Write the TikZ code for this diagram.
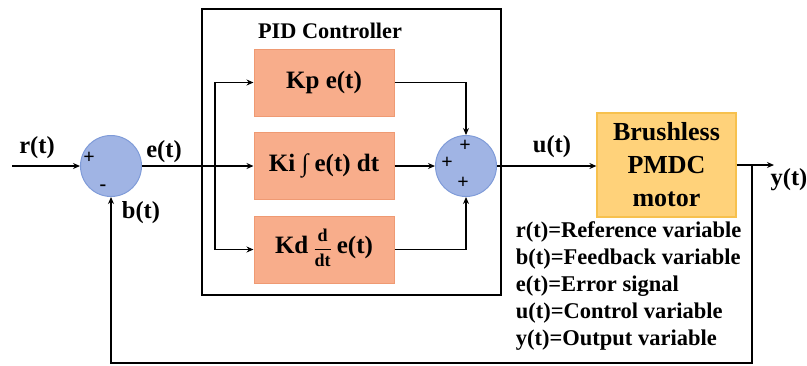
\documentclass[tikz,border=0pt]{standalone}
\usepackage{fontspec}
\setmainfont{Liberation Serif}
\usetikzlibrary{arrows.meta}
\definecolor{pidfill}{HTML}{F8AD8B}
\definecolor{piddraw}{HTML}{EF9A73}
\definecolor{sumfill}{HTML}{A0B4E4}
\definecolor{sumdraw}{HTML}{7F9BD8}
\definecolor{motfill}{HTML}{FFD27A}
\definecolor{motdraw}{HTML}{F7C14E}
\newcommand{\ddtfrac}{{\fontsize{18}{18}\selectfont\setlength\arrayrulewidth{1.1pt}\renewcommand\arraystretch{1.3}\setlength\tabcolsep{0pt}\begin{tabular}{c}d\\\hline dt\end{tabular}}}
\begin{document}
\begin{tikzpicture}[x=1pt,y=-1pt,line width=1.7pt,
  >={Stealth[length=7pt,width=6pt]},
  gainbox/.style={draw=piddraw,fill=pidfill,line width=1pt,minimum width=140pt,minimum height=67pt,inner sep=0pt,font=\fontsize{25}{28}\selectfont\bfseries},
  summer/.style={circle,draw=sumdraw,fill=sumfill,line width=1pt,minimum size=61pt,inner sep=0pt},
  motorbox/.style={draw=motdraw,fill=motfill,line width=1.2pt,minimum width=139pt,minimum height=104pt,inner sep=0pt,align=center,font=\fontsize{26}{33}\selectfont\bfseries},
  sig/.style={font=\fontsize{24.5}{26}\selectfont\bfseries,inner sep=0pt},
  sign/.style={font=\fontsize{20}{20}\selectfont\bfseries,inner sep=0pt},
  legend/.style={font=\fontsize{22.5}{27}\selectfont\bfseries,inner sep=0pt,align=left,anchor=north west},
  title/.style={font=\fontsize{22.3}{24}\selectfont\bfseries,inner sep=0pt}]
\useasboundingbox (0,0) rectangle (807,365);
% PID frame
\node[draw,line width=1.8pt,minimum width=299pt,minimum height=286pt,inner sep=0pt] (pid) at (351.5,152) {};
\node[title] (pidlabel) at (330,31) {PID Controller};
% gain blocks
\node[gainbox] (Kp) at (324,82.5) {Kp e(t)};
\node[gainbox] (Ki) at (324,166) {Ki ∫ e(t) dt};
\node[gainbox] (Kd) at (324,249.5) {Kd \ddtfrac\ e(t)};
% summers
\node[summer] (S1) at (111,166) {};
\node[summer] (S2) at (466,166) {};
\node[motorbox] (motor) at (666.5,165) {Brushless\\PMDC\\motor};
% signs
\node[sign] (p1) at (89,158) {+};
\node[sign] (m1) at (103,188) {-};
\node[sign] (p2) at (465,146) {+};
\node[sign] (p3) at (447,163) {+};
\node[sign] (p4) at (463,183) {+};
% coordinates
\coordinate (in) at (12,166);
\coordinate (br) at (215,166);
\coordinate (yend) at (774,165);
\coordinate (tap) at (752,165);
\coordinate (fb) at (752,363);
% connectors
\draw[->] (in) -- (S1.west);
\draw[->] (S1.east) -- (Ki.west);
\draw[->] (br) |- (Kp.west);
\draw[->] (br) |- (Kd.west);
\draw[->] (Kp.east) -| (S2.north);
\draw[->] (Kd.east) -| (S2.south);
\draw[->] (Ki.east) -- (S2.west);
\draw[->] (S2.east) -- (S2.east -| motor.west);
\draw[->] (motor.east) -- (yend);
\draw[->] (tap) -- (fb) -| (S1.south);
% labels
\node[sig] (rl) at (37,148) {r(t)};
\node[sig] (el) at (164,152) {e(t)};
\node[sig] (bl) at (141,213) {b(t)};
\node[sig] (ul) at (552,147) {u(t)};
\node[sig] (yl) at (789,180) {y(t)};
\node[legend] (leg) at (515,221) {r(t)=Reference variable\\b(t)=Feedback variable\\e(t)=Error signal\\u(t)=Control variable\\y(t)=Output variable};
\end{tikzpicture}
\end{document}
